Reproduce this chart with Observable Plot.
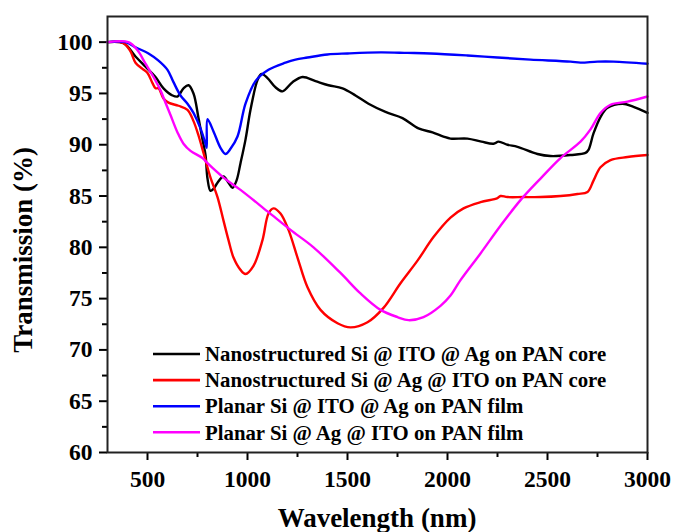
<!DOCTYPE html>
<html>
<head>
<meta charset="utf-8">
<script src="https://cdn.jsdelivr.net/npm/d3@7"></script>
<script src="https://cdn.jsdelivr.net/npm/@observablehq/plot@0.6"></script>
<style>
  html, body { margin: 0; padding: 0; background: #fff; }
  #chart { width: 673px; height: 532px; }
  #chart svg text { font-family: 'Liberation Serif', 'Times New Roman', serif; font-weight: bold; }
</style>
</head>
<body>
<div id="chart"></div>
<script>
// ---- Data ----
const seriesNames = [
  "Nanostructured Si @ ITO @ Ag on PAN core",
  "Nanostructured Si @ Ag @ ITO on PAN core",
  "Planar Si @ ITO @ Ag on PAN film",
  "Planar Si @ Ag @ ITO on PAN film"
];
const seriesColors = ["#000000", "#ff0000", "#0000ff", "#ff00ff"];

const nsItoAgX = [300, 380, 440, 490, 540, 580, 625, 650, 680, 705, 730, 755, 775, 790, 800, 815, 830, 850, 880, 905, 925, 945, 965, 990, 1015, 1050, 1070, 1100, 1140, 1175, 1225, 1275, 1340, 1405, 1475, 1540, 1605, 1690, 1775, 1855, 1925, 1980, 2015, 2100, 2170, 2230, 2255, 2300, 2350, 2450, 2515, 2615, 2690, 2705, 2730, 2765, 2800, 2875, 2930, 3000];
const nsItoAgY = [100, 99.9, 98.6, 97.6, 96.6, 95.5, 94.8, 94.7, 95.5, 95.8, 95.0, 92.6, 90.5, 89.0, 86.7, 85.5, 85.7, 86.3, 86.9, 86.3, 85.8, 86.5, 88.2, 90.5, 93.4, 96.3, 96.9, 96.5, 95.6, 95.2, 96.1, 96.6, 96.2, 95.8, 95.5, 94.8, 94.0, 93.2, 92.6, 91.6, 91.2, 90.8, 90.6, 90.6, 90.3, 90.1, 90.3, 90.0, 89.8, 89.1, 88.9, 89.0, 89.2, 89.5, 91.1, 92.7, 93.6, 94.0, 93.7, 93.1];

const nsAgItoX = [300, 380, 415, 440, 475, 500, 525, 540, 555, 580, 605, 655, 700, 730, 755, 780, 815, 850, 880, 905, 930, 965, 990, 1030, 1075, 1105, 1130, 1165, 1205, 1250, 1300, 1365, 1450, 1515, 1600, 1680, 1765, 1850, 1930, 2015, 2080, 2165, 2250, 2265, 2300, 2380, 2465, 2565, 2650, 2700, 2730, 2765, 2815, 2900, 3000];
const nsAgItoY = [100, 99.9, 99.1, 98.0, 97.4, 97.0, 96.0, 95.5, 95.5, 94.5, 94.1, 93.8, 93.4, 92.3, 90.9, 89.2, 86.8, 84.9, 82.6, 80.7, 79.0, 77.8, 77.4, 78.2, 80.7, 83.3, 83.8, 83.3, 81.7, 79.0, 76.1, 73.9, 72.6, 72.2, 72.7, 74.1, 76.5, 78.7, 81.0, 82.9, 83.8, 84.4, 84.8, 85.0, 84.9, 84.9, 84.9, 85.0, 85.2, 85.4, 86.5, 87.8, 88.5, 88.8, 89.0];

const plItoAgX = [300, 390, 440, 505, 555, 600, 630, 665, 700, 730, 765, 790, 796, 800, 830, 865, 890, 915, 950, 990, 1040, 1105, 1190, 1240, 1300, 1400, 1500, 1665, 1800, 1915, 2100, 2250, 2415, 2615, 2665, 2750, 2830, 3000];
const plItoAgY = [100, 100, 99.5, 98.9, 98.2, 97.3, 96.1, 94.8, 94.0, 93.1, 91.6, 90.1, 89.7, 92.5, 91.3, 89.7, 89.1, 89.6, 90.8, 94.0, 96.2, 97.3, 98.0, 98.3, 98.5, 98.8, 98.9, 99.0, 98.95, 98.9, 98.7, 98.5, 98.3, 98.1, 98.0, 98.1, 98.1, 97.9];

const plAgItoX = [300, 405, 450, 490, 530, 565, 590, 615, 650, 680, 715, 775, 800, 880, 965, 1100, 1215, 1330, 1465, 1565, 1665, 1750, 1805, 1880, 1965, 2015, 2065, 2165, 2265, 2365, 2465, 2565, 2665, 2715, 2765, 2815, 2900, 3000];
const plAgItoY = [100, 100, 99.2, 97.9, 96.6, 95.3, 94.1, 92.9, 91.2, 90.1, 89.4, 88.7, 88.2, 86.8, 85.6, 83.5, 81.7, 80.0, 77.5, 75.5, 73.9, 73.2, 72.9, 73.2, 74.3, 75.3, 76.8, 79.4, 82.1, 84.6, 86.7, 88.7, 90.3, 91.5, 93.1, 93.9, 94.2, 94.7];

const xMajorTicks = [500, 1000, 1500, 2000, 2500, 3000];
const xMinorTicks = [750, 1250, 1750, 2250, 2750];
const yMajorTicks = [60, 65, 70, 75, 80, 85, 90, 95, 100];
const yMinorTicks = [62.5, 67.5, 72.5, 77.5, 82.5, 87.5, 92.5, 97.5];

const xTitle = "Wavelength (nm)";
const yTitle = "Transmission (%)";

// ---- Build table ----
const allX = [nsItoAgX, nsAgItoX, plItoAgX, plAgItoX];
const allY = [nsItoAgY, nsAgItoY, plItoAgY, plAgItoY];
const rows = [];
allX.forEach((xs, s) => xs.forEach((x, i) => rows.push({series: seriesNames[s], x, y: allY[s][i]})));

const font = "'Liberation Serif', 'Times New Roman', serif";

const plot = Plot.plot({
  width: 673,
  height: 532,
  marginLeft: 107,
  marginRight: 26,
  marginTop: 16,
  marginBottom: 80,
  style: {fontFamily: font, fontWeight: "bold", fontSize: "23.5px", color: "#000", background: "#fff", overflow: "visible"},
  x: {domain: [300, 3000]},
  y: {domain: [60, 102.5]},
  color: {domain: seriesNames, range: seriesColors},
  marks: [
    Plot.axisX({ticks: xMajorTicks, tickSize: 8, tickPadding: 10, strokeWidth: 2, label: null, tickFormat: d => String(d)}),
    Plot.axisX({ticks: xMinorTicks, tickSize: 5, strokeWidth: 2, label: null, tickFormat: () => ""}),
    Plot.axisY({ticks: yMajorTicks, tickSize: 8, tickPadding: 7, strokeWidth: 2, label: null, tickFormat: d => String(d)}),
    Plot.axisY({ticks: yMinorTicks, tickSize: 5, strokeWidth: 2, label: null, tickFormat: () => ""}),
    Plot.line(rows, {x: "x", y: "y", z: "series", stroke: "series", strokeWidth: 2.4, curve: "catmull-rom"}),
    Plot.frame({stroke: "#222", strokeWidth: 2})
  ]
});

document.getElementById("chart").appendChild(plot);

const svg = d3.select(plot);
// Make the tick labels large and bold like the reference
svg.selectAll('g[aria-label*="axis"]').attr("font-size", null).style("font-size", "23.5px").style("font-weight", "bold");
svg.selectAll('g[aria-label*="axis"] text').style("font-size", "23.5px").style("font-weight", "bold");

// ---- Titles and legend overlay ----
const sx = plot.scale("x"), sy = plot.scale("y");
const [left, right] = sx.range;
const plotCenterX = (left + right) / 2;

svg.append("text")
  .attr("x", plotCenterX).attr("y", 527)
  .attr("text-anchor", "middle")
  .style("font-family", font).style("font-weight", "bold").style("font-size", "27px")
  .text(xTitle);

svg.append("text")
  .attr("transform", `translate(32, ${(sy.apply(60) + sy.apply(100)) / 2 + 3}) rotate(-90)`)
  .attr("text-anchor", "middle")
  .style("font-family", font).style("font-weight", "bold").style("font-size", "27px")
  .text(yTitle);

const legend = svg.append("g").attr("text-anchor", "start");
seriesNames.forEach((name, i) => {
  const yy = 354 + i * 26.1;
  legend.append("line")
    .attr("x1", 153).attr("x2", 200).attr("y1", yy).attr("y2", yy)
    .attr("stroke", seriesColors[i]).attr("stroke-width", 2.6);
  legend.append("text")
    .attr("x", 205).attr("y", yy).attr("dy", "0.35em")
    .attr("text-anchor", "start")
    .style("font-family", font).style("font-weight", "bold").style("font-size", "20.8px")
    .text(name);
});
</script>
</body>
</html>
